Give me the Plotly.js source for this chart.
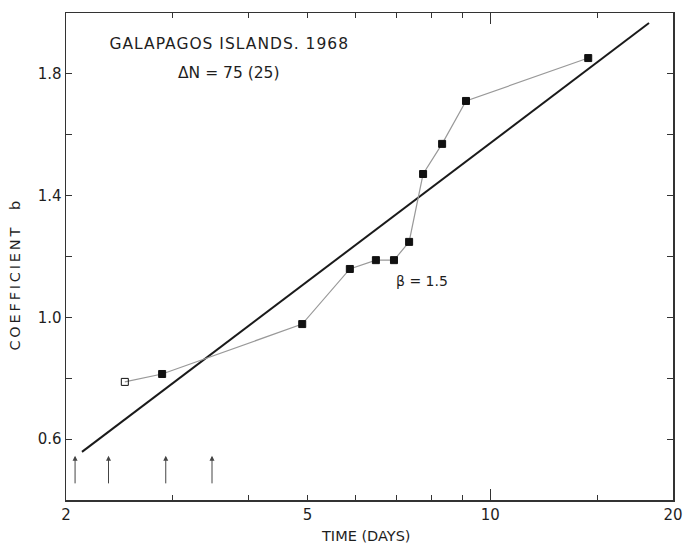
<!DOCTYPE html>
<html>
<head>
<meta charset="utf-8">
<script src="https://cdn.plot.ly/plotly-3.0.1.min.js"></script>
<style>
html,body{margin:0;padding:0;background:#fff;}
#chart{width:685px;height:546px;}
.annotation[data-index="3"] .annotation-text{letter-spacing:2.8px;}
.annotation[data-index="0"] .annotation-text{letter-spacing:1px;}
</style>
</head>
<body>
<div id="chart"></div>
<script>
// Observed coefficient b vs time (days)
const timeDays = [2.50, 2.88, 4.90, 5.87, 6.48, 6.94, 7.35, 7.75, 8.33, 9.12, 14.5];
const coeffB   = [0.788, 0.814, 0.978, 1.159, 1.188, 1.188, 1.248, 1.471, 1.570, 1.711, 1.852];
const openFlags = [true, false, false, false, false, false, false, false, false, false, false];
// Fitted line (beta = 1.5) end points
const fitTime = [2.125, 18.26];
const fitB    = [0.558, 1.967];
// Arrow markers along time axis
const arrowTimes = [2.07, 2.35, 2.92, 3.48];
const arrowTipB = 0.545;
// Tick labels
const xTickVals = [2, 3, 4, 5, 6, 7, 8, 9, 10, 15, 20];
const xTickText = ['2', '', '', '5', '', '', '', '', '10', '', '20'];
const xMajorTicks = [10];
const yTickVals = [0.6, 0.8, 1.0, 1.2, 1.4, 1.6, 1.8];
const yTickText = ['0.6', '', '1.0', '', '1.4', '', '1.8'];

const FONT = 'DejaVu Sans, sans-serif';
const TXT = '#1e1e1e';

const traces = [
  {
    x: fitTime, y: fitB, mode: 'lines', type: 'scatter',
    line: {color: '#1a1a1a', width: 2}, hoverinfo: 'skip'
  },
  {
    x: timeDays, y: coeffB, mode: 'lines+markers', type: 'scatter',
    line: {color: '#999', width: 1.2},
    marker: {
      symbol: openFlags.map(o => o ? 'square-open' : 'square'),
      size: 7, color: '#111', line: {color: '#111', width: 1}
    }
  },
  {
    x: fitTime, y: fitB, xaxis: 'x2', yaxis: 'y', mode: 'lines', type: 'scatter',
    line: {color: 'rgba(0,0,0,0)', width: 0}, hoverinfo: 'skip'
  }
];

function lbl(px, py, text, size, extra) {
  return Object.assign({
    xref: 'paper', yref: 'paper', x: (px - 66) / 607, y: (500 - py) / 487,
    xanchor: 'center', yanchor: 'middle', text: text, showarrow: false,
    font: {family: FONT, size: size, color: TXT}
  }, extra || {});
}

const annotations = [
  lbl(229, 44, 'GALAPAGOS ISLANDS. 1968', 15.5),
  lbl(229, 73, 'ΔN = 75 (25)', 15.5),
  lbl(422, 281, 'β = 1.5', 14),
  lbl(15, 274, 'COEFFICIENT  b', 14.5, {textangle: -90}),
  lbl(366, 536, 'TIME (DAYS)', 14.5)
];
arrowTimes.forEach(t => {
  annotations.push({
    x: Math.log10(t), y: arrowTipB, xref: 'x', yref: 'y', text: '',
    showarrow: true, ax: 0, ay: 29, arrowhead: 2, arrowsize: 1, arrowwidth: 1,
    arrowcolor: '#444'
  });
});

const layout = {
  width: 685, height: 546,
  margin: {l: 66, r: 12, t: 13, b: 46},
  paper_bgcolor: '#fff', plot_bgcolor: '#fff',
  showlegend: false,
  font: {family: FONT, size: 15, color: TXT},
  xaxis: {
    type: 'log', range: [Math.log10(2), Math.log10(20)],
    tickmode: 'array', tickvals: xTickVals, ticktext: xTickText,
    ticks: 'inside', ticklen: 5, tickwidth: 1, tickcolor: '#333',
    showline: true, linecolor: '#333', linewidth: 1.5, mirror: 'ticks',
    showgrid: false, zeroline: false,
    tickfont: {family: FONT, size: 15, color: TXT}
  },
  xaxis2: {
    type: 'log', range: [Math.log10(2), Math.log10(20)],
    overlaying: 'x', anchor: 'y', side: 'bottom',
    tickmode: 'array', tickvals: xMajorTicks, showticklabels: false,
    ticks: 'inside', ticklen: 11, tickwidth: 1, tickcolor: '#333',
    showline: false, mirror: 'ticks', showgrid: false, zeroline: false
  },
  yaxis: {
    range: [0.4, 2.0],
    tickmode: 'array', tickvals: yTickVals, ticktext: yTickText,
    ticks: 'inside', ticklen: 6, tickwidth: 1, tickcolor: '#333',
    showline: true, linecolor: '#333', linewidth: 1.5, mirror: 'ticks',
    showgrid: false, zeroline: false,
    tickfont: {family: FONT, size: 15, color: TXT}
  },
  annotations: annotations
};

Plotly.newPlot('chart', traces, layout, {displayModeBar: false, staticPlot: true});
</script>
</body>
</html>
